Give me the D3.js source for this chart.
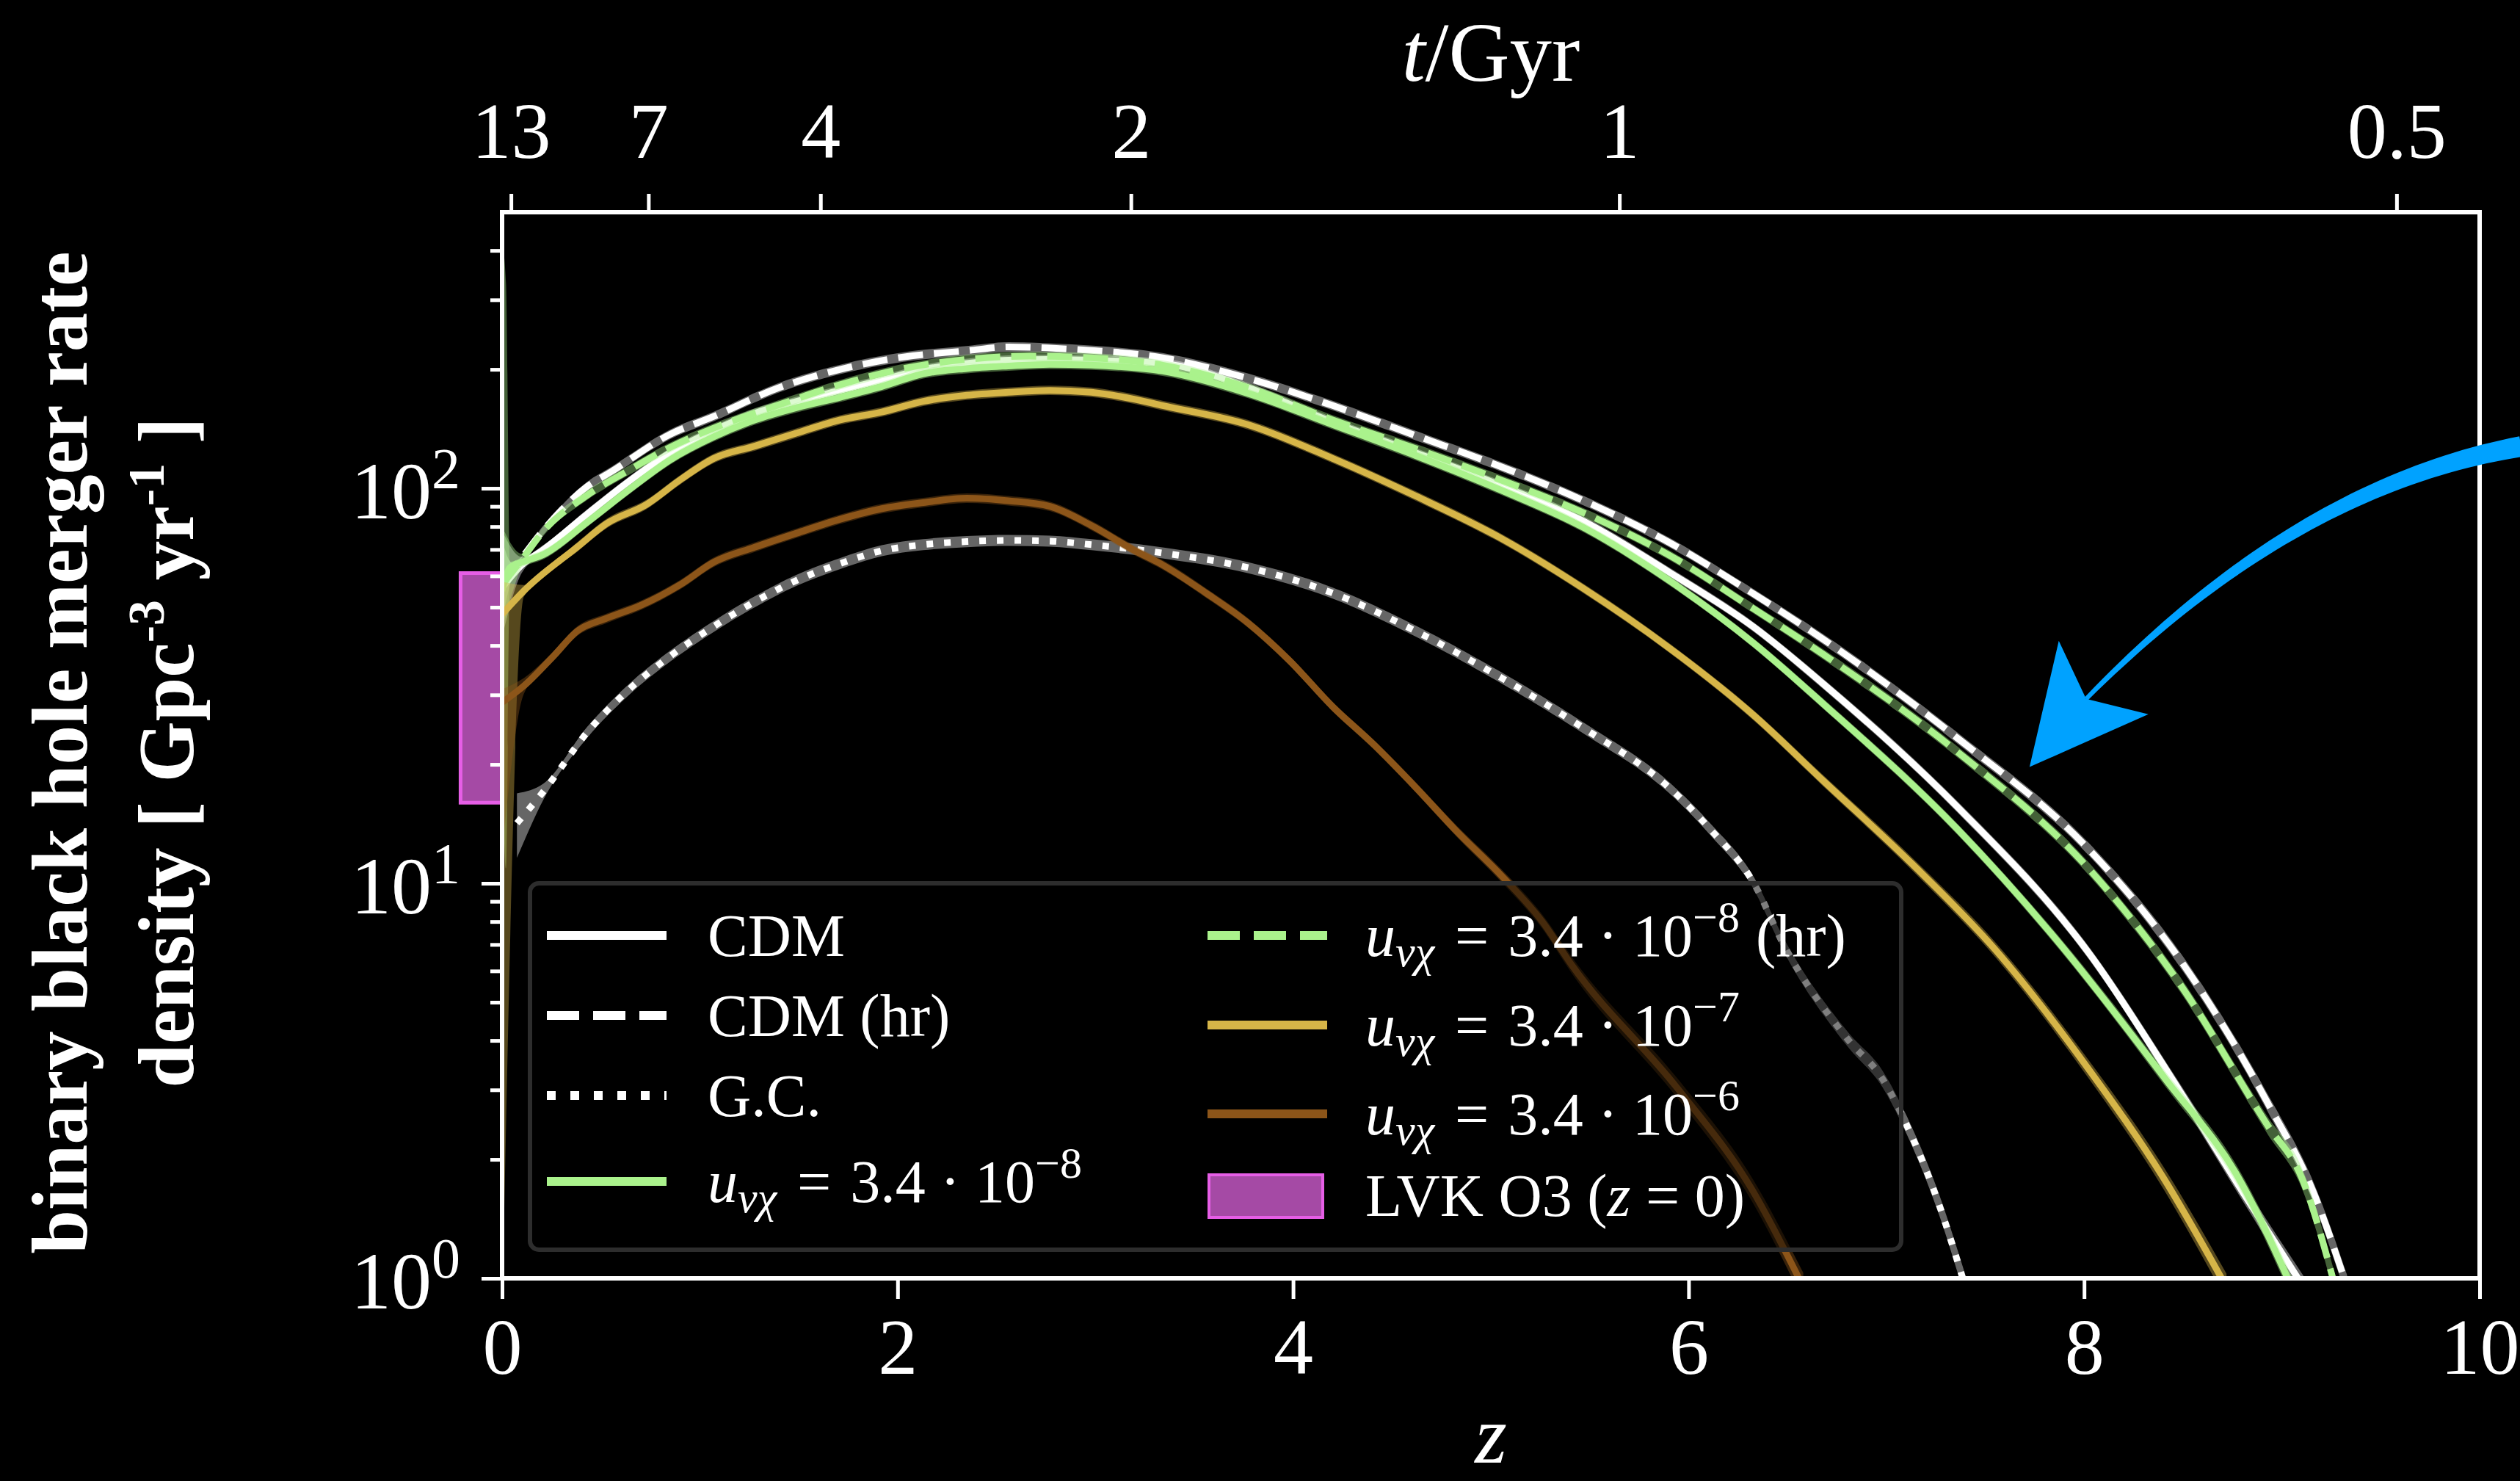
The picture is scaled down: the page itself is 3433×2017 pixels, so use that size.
<!DOCTYPE html>
<html>
<head>
<meta charset="utf-8">
<title>Binary black hole merger rate density</title>
<script src="https://cdn.jsdelivr.net/npm/d3@7/dist/d3.min.js"></script>
<style>
  html, body { margin: 0; padding: 0; background: #000; }
  svg { display: block; }
  text { font-family: "Liberation Serif", "DejaVu Serif", serif; fill: #fff; }
</style>
</head>
<body>
<svg id="chart" width="3433" height="2017"></svg>
<script>
// ---------------- axis ticks ----------------
const zTicks = [0, 2, 4, 6, 8, 10];
const ageLabels = ["13", "7", "4", "2", "1", "0.5"];          // cosmic age t / Gyr
const ageTickZ = [0.045, 0.74, 1.61, 3.18, 5.65, 9.58];        // redshift of each age tick
const rateMajorTicks = [1, 10, 100];
const rateMinorTicks = [2, 3, 4, 5, 6, 7, 8, 9, 20, 30, 40, 50, 60, 70, 80, 90, 200, 300, 400];

// LVK O3 local BBH merger rate interval (z = 0), Gpc^-3 yr^-1
const lvkRange = [16, 61];

// ---------------- merger rate density curves ----------------
// each: redshift, rate [Gpc^-3 yr^-1], band half-width [dex], band at first point [lo, hi]
const cdmZ = [0, 0.1, 0.21, 0.43, 0.64, 0.85, 1.07, 1.28, 1.49, 1.71, 1.92, 2.13, 2.35, 2.56, 2.77, 2.98, 3.34, 3.77, 4.20, 4.62, 5.05, 5.47, 5.90, 6.33, 6.68, 7.36, 8.03, 8.48, 8.82, 9.11];
const cdmV = [56, 64, 70, 86, 104, 123, 140, 155, 166, 177, 188, 200, 207, 211, 212, 211, 207, 180, 147, 123, 101.6, 82.5, 61.4, 44.5, 32, 15.6, 6.6, 3.0, 1.6, 0.95];
const cdmBand = [0, 0.02, 0.012, 0.012, 0.012, 0.012, 0.012, 0.012, 0.012, 0.012, 0.012, 0.012, 0.012, 0.012, 0.012, 0.012, 0.012, 0.012, 0.012, 0.012, 0.012, 0.012, 0.012, 0.012, 0.013, 0.014, 0.016, 0.019, 0.023, 0.028];
const cdmStart = [42, 78];

const cdmHrZ = [0, 0.05, 0.21, 0.43, 0.55, 0.85, 1.07, 1.39, 1.71, 2.03, 2.35, 2.56, 2.88, 3.34, 3.77, 4.20, 4.62, 5.05, 5.47, 5.90, 6.33, 6.68, 7.36, 8.03, 8.48, 8.93, 9.16, 9.33];
const cdmHrV = [58, 62, 78.5, 101, 110, 137, 152, 179, 200, 215, 223, 228, 225, 214, 190, 162, 136, 113.5, 93, 73, 54, 41.5, 23.3, 12.1, 6.46, 2.77, 1.65, 0.95];
const cdmHrBand = [0, 0.02, 0.012, 0.012, 0.012, 0.012, 0.012, 0.012, 0.012, 0.012, 0.012, 0.012, 0.012, 0.012, 0.012, 0.012, 0.012, 0.012, 0.012, 0.012, 0.012, 0.013, 0.014, 0.016, 0.019, 0.022, 0.026, 0.03];
const cdmHrStart = [46, 74];

const gcZ = [0.075, 0.21, 0.43, 0.64, 0.85, 1.07, 1.28, 1.49, 1.71, 1.92, 2.13, 2.35, 2.56, 2.77, 2.98, 3.34, 3.77, 4.20, 4.62, 5.05, 5.47, 5.90, 6.11, 6.33, 6.48, 6.81, 6.98, 7.10, 7.26, 7.40];
const gcV = [14.2, 17.1, 24.1, 30.9, 37.6, 44.7, 51.7, 58.5, 64.5, 69.5, 72, 73.3, 73.8, 73.5, 72, 68.6, 63, 54.3, 43.5, 33.2, 24.7, 17.5, 13.7, 10, 7.0, 4.0, 3.2, 2.46, 1.57, 0.95];
const gcBand = [0, 0.02, 0.014, 0.014, 0.014, 0.014, 0.014, 0.014, 0.014, 0.014, 0.014, 0.014, 0.014, 0.014, 0.014, 0.014, 0.014, 0.014, 0.014, 0.014, 0.014, 0.014, 0.015, 0.016, 0.017, 0.019, 0.021, 0.023, 0.026, 0.03];
const gcStart = [11.6, 16.9];

const u8Z = [0, 0.02, 0.04, 0.1, 0.21, 0.43, 0.64, 0.85, 1.07, 1.28, 1.49, 1.71, 1.92, 2.13, 2.35, 2.56, 2.77, 2.98, 3.34, 3.77, 4.20, 4.62, 5.05, 5.47, 5.90, 6.33, 6.68, 7.36, 7.88, 8.41, 8.78, 9.05];
const u8V = [55, 60, 63, 65, 68, 82, 99, 118, 135, 149, 160, 170, 181, 195, 201, 204, 206, 205, 198, 174, 145, 121, 99, 79.5, 58.5, 40.5, 28.5, 13.7, 7.0, 3.2, 1.8, 0.95];
const u8Band = [0, 0.74, 0.015, 0.012, 0.012, 0.012, 0.012, 0.012, 0.012, 0.012, 0.012, 0.012, 0.012, 0.012, 0.012, 0.012, 0.012, 0.012, 0.012, 0.012, 0.012, 0.012, 0.012, 0.012, 0.012, 0.012, 0.013, 0.014, 0.016, 0.019, 0.023, 0.028];
const u8Start = [22, 420];

const u8HrZ = [0, 0.1, 0.21, 0.43, 0.64, 0.85, 1.07, 1.39, 1.71, 2.03, 2.35, 2.67, 2.98, 3.34, 3.77, 4.20, 4.62, 5.05, 5.47, 5.90, 6.33, 6.68, 7.36, 8.03, 8.48, 8.93, 9.10, 9.27];
const u8HrV = [57, 66, 78, 96, 111, 127, 142, 162, 183, 201, 212, 216, 214, 205, 180, 149, 126, 105, 86.6, 67.8, 49.5, 38, 21.5, 10.8, 5.6, 2.43, 1.8, 0.95];
const u8HrBand = [0, 0.015, 0.012, 0.012, 0.012, 0.012, 0.012, 0.012, 0.012, 0.012, 0.012, 0.012, 0.012, 0.012, 0.012, 0.012, 0.012, 0.012, 0.012, 0.012, 0.012, 0.013, 0.014, 0.016, 0.019, 0.022, 0.026, 0.03];
const u8HrStart = [44, 80];

const u7Z = [0, 0.11, 0.38, 0.53, 0.73, 0.90, 1.07, 1.28, 1.49, 1.71, 1.92, 2.13, 2.35, 2.56, 2.77, 2.98, 3.20, 3.34, 3.77, 4.20, 4.62, 5.05, 5.47, 5.90, 6.33, 6.68, 7.13, 7.55, 8.02, 8.40, 8.72];
const u7V = [48, 55, 71, 81.5, 91, 105, 119, 128, 138, 149, 156, 166, 172, 175, 177, 175, 168, 162, 145, 119, 95.6, 74.8, 55.7, 39.5, 26.6, 18.2, 11.2, 6.8, 3.4, 1.8, 0.95];
const u7Band = [0, 0.015, 0.012, 0.012, 0.012, 0.012, 0.012, 0.012, 0.012, 0.012, 0.012, 0.012, 0.012, 0.012, 0.012, 0.012, 0.012, 0.012, 0.012, 0.012, 0.012, 0.012, 0.012, 0.012, 0.013, 0.014, 0.016, 0.019, 0.023, 0.028, 0.034];
const u7Start = [0.8, 58];

const u6Z = [0, 0.11, 0.26, 0.38, 0.53, 0.70, 0.90, 1.07, 1.28, 1.49, 1.71, 1.92, 2.13, 2.35, 2.56, 2.77, 2.98, 3.20, 3.34, 3.56, 3.77, 3.98, 4.20, 4.41, 4.62, 4.83, 5.05, 5.26, 5.41, 5.95, 6.32, 6.58];
const u6V = [28.7, 31.6, 37.6, 43.5, 46.9, 50.5, 57, 65, 71, 77, 83.5, 88.8, 92, 94.4, 93, 90, 80.5, 69.5, 64, 54.3, 45.7, 36.7, 28, 22.4, 17.5, 13.5, 10.5, 8.0, 6.2, 3.0, 1.68, 0.95];
const u6Band = [0, 0.02, 0.012, 0.012, 0.012, 0.012, 0.012, 0.012, 0.012, 0.012, 0.012, 0.012, 0.012, 0.012, 0.012, 0.012, 0.012, 0.012, 0.012, 0.012, 0.012, 0.012, 0.012, 0.012, 0.013, 0.014, 0.016, 0.018, 0.021, 0.025, 0.03, 0.036];
const u6Start = [12, 31];

// annotation arrow (redshift, rate): tapered tail as quadratic curve, then head polygon
const arrowTail = [[10.21, 127.6], [9.07, 101.7], [8.01, 29.3]];
const arrowTailWidth = [28, 6];
const arrowHead = [[7.724, 19.7], [7.872, 41.1], [8.01, 29.3], [8.325, 26.8]];

// ---------------- styling ----------------
const WHITE = "#ffffff", GREEN = "#aaf28c", GOLD = "#d6b548", BROWN = "#8c5519";
const LVK_FILL = "#a54aa5", LVK_EDGE = "#e65ee6", ARROW = "#00a2ff";
const LINE_W = 9, DASH = "34 15", DOT = "9 15";

const series = [
  { z: cdmZ,  v: cdmV,  band: cdmBand,  start: cdmStart,  color: WHITE, dash: null },
  { z: cdmHrZ, v: cdmHrV, band: cdmHrBand, start: cdmHrStart, color: WHITE, dash: DASH },
  { z: gcZ,   v: gcV,   band: gcBand,   start: gcStart,   color: WHITE, dash: DOT },
  { z: u8Z,   v: u8V,   band: u8Band,   start: u8Start,   color: GREEN, dash: null },
  { z: u8HrZ, v: u8HrV, band: u8HrBand, start: u8HrStart, color: GREEN, dash: DASH },
  { z: u7Z,   v: u7V,   band: u7Band,   start: u7Start,   color: GOLD,  dash: null },
  { z: u6Z,   v: u6V,   band: u6Band,   start: u6Start,   color: BROWN, dash: null }
];

// ---------------- scales ----------------
const svg = d3.select("#chart");
const x = d3.scaleLinear().domain([0, 10]).range([684, 3378]);
const y = d3.scaleLog().domain([1, 500]).range([1741, 289]);

svg.append("rect").attr("width", 3433).attr("height", 2017).attr("fill", "#000");

svg.append("defs").append("clipPath").attr("id", "plot-clip").append("rect")
  .attr("x", x(0)).attr("y", y(500))
  .attr("width", x(10) - x(0)).attr("height", y(1) - y(500));

// LVK interval, drawn just outside the rate axis
svg.append("rect")
  .attr("x", x(-0.21)).attr("width", x(0) - x(-0.21))
  .attr("y", y(lvkRange[1])).attr("height", y(lvkRange[0]) - y(lvkRange[1]))
  .attr("fill", LVK_FILL).attr("stroke", LVK_EDGE).attr("stroke-width", 5);

// ---------------- curves with uncertainty bands ----------------
const plot = svg.append("g").attr("clip-path", "url(#plot-clip)");
const area = d3.area().curve(d3.curveMonotoneX)
  .x(d => x(d.z)).y0(d => y(d.lo)).y1(d => y(d.hi));
const line = d3.line().curve(d3.curveMonotoneX)
  .x(d => x(d.z)).y(d => y(d.v));

series.forEach(s => {
  const pts = s.z.map((z, i) => {
    const v = s.v[i], f = Math.pow(10, s.band[i]);
    return i === 0 ? { z, v, lo: s.start[0], hi: s.start[1] } : { z, v, lo: v / f, hi: v * f };
  });
  plot.append("path").datum(pts).attr("d", area)
    .attr("fill", s.color).attr("fill-opacity", 0.4);
  plot.append("path").datum(pts).attr("d", line)
    .attr("fill", "none").attr("stroke", s.color).attr("stroke-width", LINE_W)
    .attr("stroke-dasharray", s.dash);
});

// ---------------- axes ----------------
function styleAxis(g, size) {
  g.select(".domain").remove();
  g.attr("font-size", size).attr("font-family", null);
  g.selectAll(".tick line").attr("stroke", "#fff").attr("stroke-width", 5);
  g.selectAll(".tick text").attr("fill", "#fff");
}

svg.append("g").attr("transform", `translate(0,${y(1)})`)
  .call(d3.axisBottom(x).tickValues(zTicks).tickFormat(d3.format("d"))
    .tickSize(28).tickPadding(25).tickSizeOuter(0))
  .call(g => styleAxis(g, 108));

svg.append("g").attr("transform", `translate(0,${y(500)})`)
  .call(d3.axisTop(x).tickValues(ageTickZ).tickFormat((d, i) => ageLabels[i])
    .tickSize(25).tickPadding(49).tickSizeOuter(0))
  .call(g => styleAxis(g, 108));

svg.append("g").attr("transform", `translate(${x(0)},0)`)
  .call(d3.axisLeft(y).tickValues(rateMinorTicks).tickFormat("").tickSize(16).tickSizeOuter(0))
  .call(g => styleAxis(g, 108));

svg.append("g").attr("transform", `translate(${x(0)},0)`)
  .call(d3.axisLeft(y).tickValues(rateMajorTicks).tickSize(28).tickPadding(29).tickSizeOuter(0))
  .call(g => styleAxis(g, 110))
  .call(g => g.selectAll(".tick text").attr("dy", "0.37em").each(function (d) {
    const t = d3.select(this).text(null);
    t.append("tspan").text("10");
    t.append("tspan").attr("font-size", 78).attr("dy", -42).text(Math.round(Math.log10(d)));
  }));

// frame
svg.append("rect")
  .attr("x", x(0)).attr("y", y(500))
  .attr("width", x(10) - x(0)).attr("height", y(1) - y(500))
  .attr("fill", "none").attr("stroke", "#fff").attr("stroke-width", 6);

// axis titles
svg.append("text").attr("x", x(5)).attr("y", 1992).attr("text-anchor", "middle")
  .attr("font-size", 112).attr("font-style", "italic").text("z");

const tTitle = svg.append("text").attr("x", x(5)).attr("y", 110)
  .attr("text-anchor", "middle").attr("font-size", 115);
tTitle.append("tspan").attr("font-style", "italic").text("t");
tTitle.append("tspan").text("/Gyr");

const yTitle = svg.append("g").attr("font-weight", "bold").attr("font-size", 107);
yTitle.append("text").attr("transform", "translate(118,1025) rotate(-90)")
  .attr("text-anchor", "middle").text("binary black hole merger rate");
const yt2 = yTitle.append("text").attr("transform", "translate(263,1025) rotate(-90)")
  .attr("text-anchor", "middle");
yt2.append("tspan").text("density [ Gpc");
yt2.append("tspan").attr("font-size", 70).attr("dy", -40).text("-3");
yt2.append("tspan").attr("dy", 40).text(" yr");
yt2.append("tspan").attr("font-size", 70).attr("dy", -40).text("-1");
yt2.append("tspan").attr("dy", 40).text(" ]");

// ---------------- legend ----------------
const legend = svg.append("g").attr("font-size", 82);
legend.append("rect")
  .attr("x", 722).attr("y", 1203).attr("width", 1868).attr("height", 499).attr("rx", 12)
  .attr("fill", "#000").attr("fill-opacity", 0.5)
  .attr("stroke", "#2d2d2d").attr("stroke-width", 6);

function coupling(t, mant, exp, suffix) {
  t.append("tspan").attr("font-style", "italic").text("u");
  t.append("tspan").attr("font-style", "italic").attr("font-size", 60).attr("dy", 14).text("νχ");
  t.append("tspan").attr("dy", -14).attr("dx", 28).text("=");
  t.append("tspan").attr("dx", 26).text(mant);
  t.append("tspan").attr("dx", 20).text("·");
  t.append("tspan").attr("dx", 20).text("10");
  t.append("tspan").attr("font-size", 60).attr("dy", -33).text("−" + exp);
  if (suffix) t.append("tspan").attr("dy", 33).attr("dx", 22).text(suffix);
}

const legendCols = [{ hx: 745, tx: 964 }, { hx: 1645, tx: 1860 }];
const legendRows = [[1274, 1383, 1492, 1609], [1274, 1396, 1517, 1628]];
const legendEntries = [
  { c: 0, r: 0, color: WHITE, dash: null,     label: t => t.text("CDM") },
  { c: 0, r: 1, color: WHITE, dash: "44 19",  label: t => t.text("CDM (hr)") },
  { c: 0, r: 2, color: WHITE, dash: "12 20",  label: t => t.text("G.C.") },
  { c: 0, r: 3, color: GREEN, dash: null,     label: t => coupling(t, "3.4", "8") },
  { c: 1, r: 0, color: GREEN, dash: "44 19",  label: t => coupling(t, "3.4", "8", "(hr)") },
  { c: 1, r: 1, color: GOLD,  dash: null,     label: t => coupling(t, "3.4", "7") },
  { c: 1, r: 2, color: BROWN, dash: null,     label: t => coupling(t, "3.4", "6") },
  { c: 1, r: 3, patch: true,                  label: t => {
      t.append("tspan").text("LVK O3 (");
      t.append("tspan").attr("font-style", "italic").text("z");
      t.append("tspan").text(" = 0)");
    } }
];

legendEntries.forEach(e => {
  const col = legendCols[e.c], yy = legendRows[e.c][e.r];
  if (e.patch) {
    legend.append("rect").attr("x", col.hx + 2).attr("y", yy - 28).attr("width", 155).attr("height", 58)
      .attr("fill", LVK_FILL).attr("stroke", LVK_EDGE).attr("stroke-width", 4);
  } else {
    legend.append("line").attr("x1", col.hx).attr("x2", col.hx + 163).attr("y1", yy).attr("y2", yy)
      .attr("stroke", e.color).attr("stroke-width", 12).attr("stroke-dasharray", e.dash);
  }
  const t = legend.append("text").attr("x", col.tx).attr("y", yy + 28);
  e.label(t);
});

// ---------------- annotation arrow ----------------
const P = arrowTail.map(d => [x(d[0]), y(d[1])]);
const left = [], right = [];
const N = 48;
for (let i = 0; i <= N; i++) {
  const t = i / N, u = 1 - t;
  const px = u * u * P[0][0] + 2 * u * t * P[1][0] + t * t * P[2][0];
  const py = u * u * P[0][1] + 2 * u * t * P[1][1] + t * t * P[2][1];
  const dx = 2 * u * (P[1][0] - P[0][0]) + 2 * t * (P[2][0] - P[1][0]);
  const dy = 2 * u * (P[1][1] - P[0][1]) + 2 * t * (P[2][1] - P[1][1]);
  const len = Math.hypot(dx, dy), nx = -dy / len, ny = dx / len;
  const w = (arrowTailWidth[0] + (arrowTailWidth[1] - arrowTailWidth[0]) * t) / 2;
  left.push([px + nx * w, py + ny * w]);
  right.push([px - nx * w, py - ny * w]);
}
svg.append("path").attr("d", d3.line()(left.concat(right.reverse())) + "Z").attr("fill", ARROW);
svg.append("path").attr("d", d3.line()(arrowHead.map(d => [x(d[0]), y(d[1])])) + "Z").attr("fill", ARROW);
</script>
</body>
</html>
